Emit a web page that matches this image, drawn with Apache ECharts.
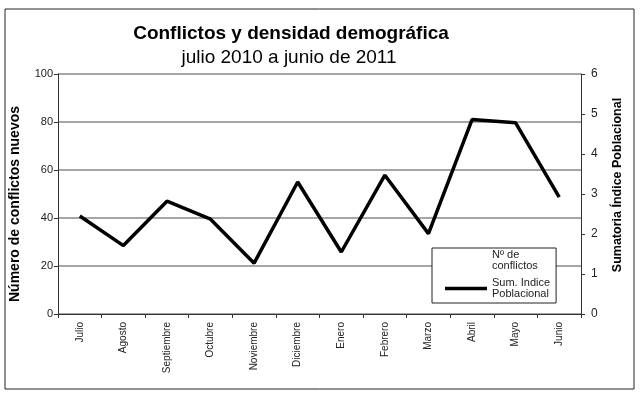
<!DOCTYPE html>
<html>
<head>
<meta charset="utf-8">
<script src="https://cdn.jsdelivr.net/npm/echarts@6/dist/echarts.min.js"></script>
<style>
html,body{margin:0;padding:0;background:#fff;}
#chart{width:640px;height:393px;}
</style>
</head>
<body>
<div id="chart"></div>
<script>
// Data
var months = ['Julio','Agosto','Septiembre','Octubre','Noviembre','Diciembre','Enero','Febrero','Marzo','Abril','Mayo','Junio'];
var sumIndice = [2.45, 1.71, 2.82, 2.37, 1.27, 3.30, 1.55, 3.47, 2.01, 4.86, 4.78, 2.92];
var conflictos = []; // series listed in the legend but not visible in the picture
var seriesNames = ['Nº de conflictos', 'Sum. Indice Poblacional'];
var legendLabels = ['Nº de\nconflictos', 'Sum. Indice\nPoblacional'];
var titleText = 'Conflictos y densidad demográfica';
var subtitleText = 'julio 2010 a junio de 2011';
var leftAxisName = 'Número de conflictos nuevos';
var rightAxisName = 'Sumatoria Índice Poblacional';

var FONT = 'Liberation Sans, Arial, sans-serif';
var chart = echarts.init(document.getElementById('chart'), null, {renderer: 'canvas'});

var option = {
  backgroundColor: '#fff',
  animation: false,
  textStyle: {fontFamily: FONT},
  grid: {left: 58, right: 59, top: 74, bottom: 79},
  graphic: [
    {type: 'rect', shape: {x: 5, y: 9, width: 629, height: 380},
     style: {fill: 'none', stroke: '#222', lineWidth: 1}, silent: true, z: -1},
    {type: 'text', x: 291, y: 34,
     style: {text: titleText, font: 'bold 19px ' + FONT, fill: '#000', align: 'center', verticalAlign: 'middle'}},
    {type: 'text', x: 289, y: 58,
     style: {text: subtitleText, font: '19px ' + FONT, fill: '#000', align: 'center', verticalAlign: 'middle'}},
    {type: 'text', x: 15, y: 204, rotation: Math.PI / 2,
     style: {text: leftAxisName, font: 'bold 14px ' + FONT, fill: '#000', align: 'center', verticalAlign: 'middle'}},
    {type: 'text', x: 618, y: 185, rotation: Math.PI / 2,
     style: {text: rightAxisName, font: 'bold 12.5px ' + FONT, fill: '#000', align: 'center', verticalAlign: 'middle'}}
  ],
  legend: {
    orient: 'vertical',
    left: 432, top: 248,
    padding: [1, 6, 3, 13],
    itemGap: 5,
    itemWidth: 42,
    itemHeight: 3.5,
    backgroundColor: '#fff',
    borderColor: '#222',
    borderWidth: 1,
    selectedMode: false,
    data: [
      {name: seriesNames[0], icon: 'rect', itemStyle: {color: '#fff'}},
      {name: seriesNames[1], icon: 'rect', itemStyle: {color: '#000'}}
    ],
    formatter: function (name) { return legendLabels[seriesNames.indexOf(name)]; },
    textStyle: {fontSize: 11, lineHeight: 11.5, color: '#222', fontFamily: FONT}
  },
  xAxis: {
    type: 'category',
    data: months,
    boundaryGap: true,
    axisLine: {lineStyle: {color: '#333', width: 1}},
    axisTick: {show: true, interval: 0, length: 4, lineStyle: {color: '#333'}},
    axisLabel: {rotate: 90, interval: 0, margin: 8, fontSize: 10, color: '#222', fontFamily: FONT},
    splitLine: {show: false}
  },
  yAxis: [
    {
      type: 'value', min: 0, max: 100, interval: 20, position: 'left',
      axisLine: {show: true, lineStyle: {color: '#333', width: 1}},
      axisTick: {show: true, length: 4, lineStyle: {color: '#333'}},
      axisLabel: {fontSize: 11, color: '#222', margin: 5, fontFamily: FONT},
      splitLine: {show: true, lineStyle: {color: '#888', width: 1.5}}
    },
    {
      type: 'value', min: 0, max: 6, interval: 1, position: 'right',
      axisLine: {show: true, lineStyle: {color: '#333', width: 1}},
      axisTick: {show: true, length: 4, lineStyle: {color: '#333'}},
      axisLabel: {fontSize: 12, color: '#222', margin: 10, fontFamily: FONT},
      splitLine: {show: false}
    }
  ],
  series: [
    {
      name: seriesNames[0], type: 'line', yAxisIndex: 0,
      data: conflictos, symbol: 'none',
      color: '#fff',
      lineStyle: {color: '#fff', width: 3}
    },
    {
      name: seriesNames[1], type: 'line', yAxisIndex: 1,
      data: sumIndice, symbol: 'none', showSymbol: false,
      color: '#000',
      lineStyle: {color: '#000', width: 3.5},
      z: 5
    }
  ]
};
chart.setOption(option);
</script>
</body>
</html>
